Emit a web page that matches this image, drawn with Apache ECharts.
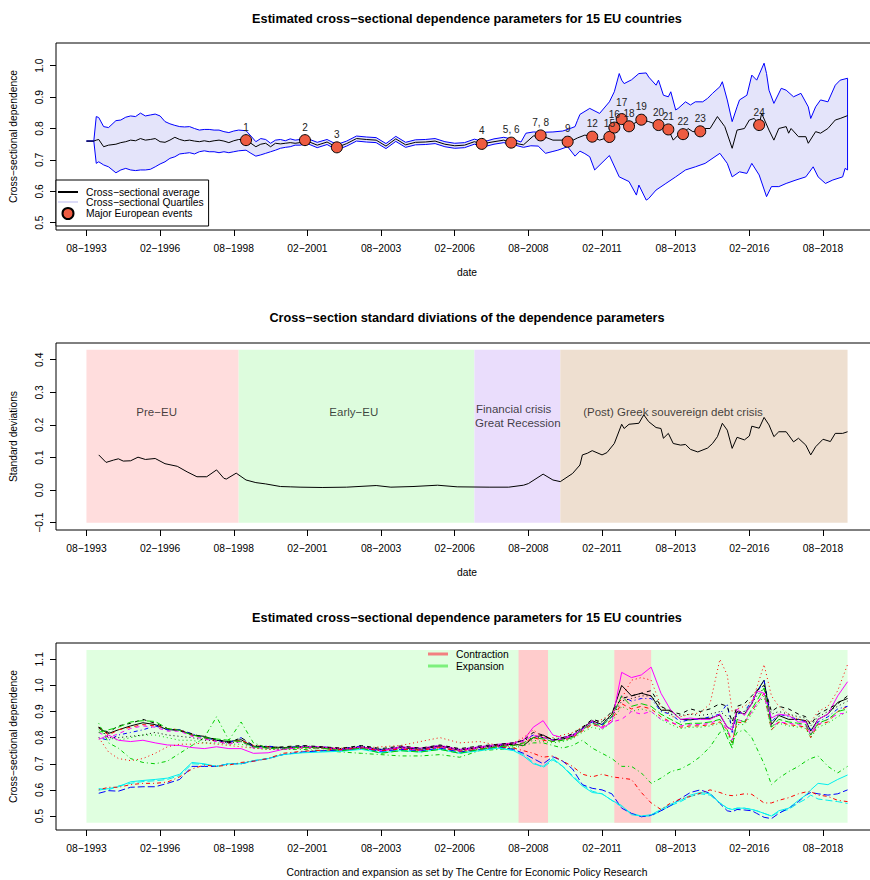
<!DOCTYPE html>
<html><head><meta charset="utf-8">
<script src="https://cdn.jsdelivr.net/npm/echarts@6/dist/echarts.min.js"></script>
<style>html,body{margin:0;padding:0;background:#fff}#c{width:870px;height:880px}</style>
</head><body><div id="c"></div>
<script>
// ---------- shared axis ticks (month index, 0 = Aug 1993) ----------
const tickMonths = [0,30,60,90,120,150,180,210,240,270,300];
const tickLabels = ['08−1993','02−1996','08−1998','02−2001','08−2003','02−2006','08−2008','02−2011','08−2013','02−2016','08−2018'];
const p1YTicks = [0.5,0.6,0.7,0.8,0.9,1.0];
const p2YTicks = [-0.1,0,0.1,0.2,0.3,0.4];
const p3YTicks = [0.5,0.6,0.7,0.8,0.9,1.0,1.1];

// ---------- panel 1 ----------
const p1UpperMonths = [0,3,4,5,7,9,12,14,16,18,20,22,24,26,28,30,32,34,36,38,40,42,44,46,48,50,52,54,56,58,60,62,65,67,69,71,73,75,77,79,81,83,85,87,
 90,94,98,102,106,110,114,118,122,126,130,134,138,142,146,150,154,158,162,166,170,174,177,179,182,186,190,194,197,199,200,
 201,205,209,213,215,217,218,219,222,225,228,229,232,233,235,237,238,240,241,244,246,248,251,253,255,258,259,261,263,265,266,269,271,273,276,277,278,280,283,285,288,291,294,295,297,299,302,305,307,310];
const p1Upper = [0.76,0.76,0.838,0.835,0.806,0.803,0.825,0.827,0.836,0.84,0.838,0.849,0.84,0.843,0.846,0.84,0.822,0.815,0.81,0.806,0.805,0.806,0.80,0.795,0.797,0.797,0.795,0.795,0.79,0.787,0.792,0.795,0.793,0.776,0.758,0.768,0.765,0.753,0.763,0.765,0.761,0.767,0.763,0.765,
 0.768,0.756,0.765,0.749,0.76,0.776,0.773,0.771,0.752,0.775,0.756,0.764,0.765,0.768,0.758,0.753,0.755,0.766,0.758,0.767,0.772,0.765,0.757,0.785,0.789,0.788,0.789,0.792,0.80,0.806,0.826,
 0.845,0.864,0.848,0.885,0.917,0.975,0.954,0.943,0.955,0.975,0.977,0.964,0.938,0.954,0.906,0.901,0.917,0.859,0.864,0.885,0.875,0.885,0.885,0.896,0.912,0.933,0.949,0.891,0.822,0.869,0.891,0.906,0.97,0.954,1.008,0.975,0.922,0.88,0.928,0.922,0.901,0.912,0.869,0.832,0.869,0.891,0.885,0.938,0.954,0.96];
const p1LowerMonths = [0,3,4,5,7,9,12,14,16,18,20,22,24,26,28,30,32,34,36,38,40,42,44,46,48,50,52,54,56,58,60,62,65,67,69,71,73,75,77,79,81,83,85,87,
 90,94,98,102,106,110,114,118,122,126,130,134,138,142,146,150,154,158,162,166,170,174,178,181,184,187,190,192,196,199,
 201,203,205,207,213,217,221,224,225,228,229,232,236,240,244,248,252,258,261,263,266,269,271,274,277,279,282,285,289,293,296,298,301,304,308,309,310];
const p1Lower = [0.76,0.76,0.689,0.694,0.684,0.678,0.659,0.668,0.673,0.668,0.666,0.668,0.668,0.67,0.678,0.687,0.694,0.705,0.71,0.719,0.721,0.723,0.719,0.726,0.729,0.726,0.726,0.723,0.726,0.723,0.726,0.729,0.731,0.721,0.712,0.716,0.721,0.726,0.731,0.737,0.74,0.742,0.747,0.747,
 0.752,0.739,0.749,0.732,0.744,0.76,0.757,0.755,0.736,0.759,0.74,0.748,0.749,0.752,0.742,0.737,0.739,0.75,0.742,0.75,0.755,0.748,0.74,0.745,0.744,0.721,0.727,0.731,0.742,0.712,
 0.728,0.72,0.71,0.668,0.714,0.646,0.631,0.588,0.62,0.572,0.577,0.604,0.625,0.646,0.668,0.678,0.689,0.721,0.689,0.646,0.662,0.657,0.689,0.652,0.583,0.615,0.615,0.625,0.636,0.646,0.678,0.646,0.625,0.636,0.646,0.673,0.668];
const p1MeanMonths = [0,3,4,5,7,9,12,14,16,18,20,22,24,26,28,30,32,34,36,38,40,42,44,46,48,50,52,54,56,58,60,62,65,67,69,71,73,75,77,79,81,83,85,87,
 89,94,98,102,106,110,114,118,122,126,130,134,138,142,146,150,154,158,161,166,170,173,178,182,185,190,194,196,198,200,
 201,203,206,209,213,215,218,221,223,226,229,233,235,237,239,241,243,245,247,250,252,254,257,260,263,265,268,270,272,274,275,278,280,282,285,286,287,290,293,294,297,299,302,305,307,310];
const p1Mean = [0.76,0.76,0.763,0.765,0.742,0.747,0.75,0.755,0.758,0.763,0.761,0.768,0.763,0.765,0.768,0.758,0.756,0.763,0.772,0.765,0.761,0.763,0.76,0.758,0.761,0.758,0.761,0.763,0.76,0.755,0.761,0.765,0.765,0.753,0.742,0.75,0.753,0.742,0.753,0.751,0.753,0.755,0.753,0.755,
 0.763,0.747,0.757,0.740,0.752,0.768,0.765,0.763,0.744,0.767,0.748,0.756,0.757,0.76,0.75,0.745,0.747,0.758,0.751,0.758,0.763,0.755,0.748,0.776,0.778,0.763,0.763,0.758,0.762,0.77,
 0.773,0.779,0.774,0.763,0.773,0.803,0.83,0.807,0.816,0.828,0.822,0.811,0.80,0.797,0.763,0.779,0.782,0.80,0.79,0.791,0.80,0.80,0.838,0.806,0.737,0.795,0.80,0.827,0.832,0.811,0.848,0.795,0.763,0.80,0.806,0.785,0.80,0.774,0.774,0.753,0.79,0.785,0.80,0.827,0.832,0.841];
const eventLabels = ['1','2','3','4','5, 6','7, 8','9','12','15','16','17','18','19','20','21','22','23','24'];
const eventMonths = [65,89,102,161,173,185,196,206,213,215,218,221,226,233,237,243,250,274];
const eventValues = [0.763,0.763,0.740,0.751,0.755,0.778,0.758,0.774,0.773,0.803,0.830,0.807,0.828,0.811,0.797,0.782,0.791,0.811];
const eventLabelLift = {'17': 4};

// ---------- panel 2 ----------
const p2Months = [5,8,11,13,15,18,21,24,28,32,37,41,45,49,53,56,57,61,65,69,73,79,83,87,96,106,118,124,133,143,151,164,172,178,180,186,190,193,198,201,202,204,206,210,212,215,218,219,221,225,227,229,232,234,235,237,239,242,244,246,249,253,255,257,259,261,263,265,268,270,271,274,276,278,280,282,285,288,290,293,295,297,300,303,305,308,310];
const p2Sd = [0.108,0.085,0.092,0.096,0.089,0.09,0.101,0.094,0.097,0.081,0.073,0.056,0.041,0.041,0.062,0.036,0.034,0.052,0.031,0.023,0.019,0.011,0.01,0.009,0.008,0.009,0.014,0.009,0.011,0.015,0.01,0.009,0.009,0.015,0.02,0.049,0.031,0.026,0.051,0.077,0.108,0.113,0.121,0.108,0.115,0.143,0.202,0.189,0.202,0.205,0.231,0.21,0.192,0.189,0.159,0.174,0.143,0.138,0.14,0.125,0.117,0.129,0.143,0.164,0.205,0.184,0.128,0.162,0.154,0.166,0.196,0.19,0.223,0.2,0.164,0.179,0.179,0.148,0.159,0.138,0.108,0.133,0.156,0.149,0.174,0.174,0.179];
const p2RegionStart = [0,62,158,193];
const p2RegionEnd = [62,158,193,310];
const p2RegionLow = -0.1, p2RegionHigh = 0.4307;
const p2RegionColors = ['#FFDDDD','#DDFCDD','#EADDFC','#EEDFD0'];
const p2NoteTexts = ['Pre−EU','Early−EU','Financial crisis','Great Recession','(Post) Greek souvereign debt crisis'];
const p2NoteMonths = [28.6,108.9,174.0,175.7,238.9];
const p2NoteValues = [0.240,0.240,0.249,0.2064,0.240];

// ---------- panel 3 ----------
const p3ExpStart = [0], p3ExpEnd = [310];
const p3ConStart = [176,215], p3ConEnd = [188,230];
const p3ShadeLow = 0.4743, p3ShadeHigh = 1.1356;
const p3Months = [5,9,13,18,23,28,33,38,43,48,53,58,63,68,74,80, 88,96,104,112,120,128,136,144,152,160,168,
 174,178,182,186,190,194,198,202,206,210,214,218,222,226,230,234,238,242,246,250,254,258,261,263,265,268,271,273,276,279,282,286,290,293,295,298,302,306,310];
const c01 = [0.836,0.816,0.83,0.845,0.857,0.85,0.83,0.83,0.81,0.805,0.79,0.785,0.792,0.765,0.765,0.762, 0.765,0.762,0.755,0.765,0.752,0.762,0.755,0.768,0.752,0.762,0.77,
 0.775,0.77,0.80,0.81,0.79,0.795,0.805,0.835,0.865,0.85,0.89,1.0,0.96,0.97,0.96,0.905,0.905,0.87,0.868,0.874,0.874,0.887,0.84,0.83,0.9,0.89,0.93,0.976,1.02,0.85,0.885,0.87,0.87,0.865,0.825,0.87,0.89,0.935,0.95];
const c02 = [0.84,0.81,0.83,0.84,0.85,0.845,0.835,0.83,0.81,0.80,0.785,0.78,0.79,0.77,0.765,0.76, 0.762,0.76,0.752,0.762,0.75,0.76,0.752,0.765,0.75,0.76,0.768,
 0.77,0.78,0.80,0.79,0.785,0.79,0.80,0.825,0.85,0.84,0.87,0.93,0.91,0.92,0.91,0.88,0.86,0.84,0.845,0.845,0.85,0.86,0.83,0.78,0.86,0.855,0.90,0.93,0.97,0.83,0.86,0.85,0.845,0.84,0.80,0.85,0.86,0.90,0.92];
const c03 = [0.83,0.80,0.79,0.80,0.81,0.81,0.80,0.79,0.79,0.78,0.78,0.775,0.775,0.76,0.755,0.755, 0.76,0.758,0.752,0.76,0.75,0.758,0.752,0.762,0.748,0.758,0.765,
 0.765,0.775,0.79,0.785,0.78,0.785,0.795,0.82,0.84,0.83,0.86,0.92,0.90,0.91,0.90,0.87,0.85,0.835,0.84,0.84,0.845,0.855,0.82,0.77,0.85,0.85,0.89,0.92,0.96,0.83,0.855,0.845,0.84,0.835,0.80,0.84,0.855,0.88,0.90];
const c04 = [0.80,0.79,0.81,0.82,0.83,0.845,0.83,0.83,0.815,0.80,0.79,0.78,0.80,0.765,0.768,0.76, 0.768,0.765,0.758,0.768,0.755,0.765,0.758,0.77,0.755,0.765,0.772,
 0.78,0.79,0.81,0.80,0.79,0.80,0.81,0.835,0.86,0.85,0.88,0.96,0.94,0.95,0.95,0.90,0.89,0.86,0.87,0.87,0.88,0.89,0.93,0.82,0.89,0.90,0.94,0.97,1.02,0.86,0.89,0.88,0.87,0.86,0.83,0.86,0.88,0.91,0.92];
const c05 = [0.605,0.60,0.615,0.625,0.632,0.635,0.64,0.655,0.70,0.698,0.69,0.70,0.70,0.712,0.72,0.735, 0.745,0.748,0.75,0.758,0.745,0.752,0.748,0.758,0.742,0.752,0.762,
 0.752,0.735,0.705,0.685,0.715,0.69,0.655,0.62,0.595,0.585,0.56,0.535,0.51,0.50,0.50,0.52,0.54,0.555,0.575,0.585,0.58,0.55,0.53,0.525,0.53,0.53,0.525,0.52,0.51,0.50,0.515,0.525,0.55,0.565,0.58,0.565,0.56,0.555,0.548];
const c06 = [0.793,0.81,0.79,0.785,0.79,0.78,0.772,0.77,0.762,0.758,0.765,0.758,0.758,0.74,0.742,0.755, 0.765,0.765,0.755,0.765,0.75,0.765,0.76,0.77,0.755,0.765,0.775,
 0.78,0.79,0.84,0.865,0.81,0.80,0.81,0.83,0.865,0.835,0.86,1.05,1.03,1.04,1.07,0.97,0.905,0.87,0.875,0.87,0.87,0.89,0.84,0.83,0.91,0.885,0.93,0.98,0.97,0.875,0.89,0.885,0.86,0.86,0.81,0.87,0.89,0.96,1.014];
const c07 = [0.84,0.82,0.845,0.855,0.87,0.855,0.835,0.825,0.815,0.80,0.795,0.78,0.80,0.77,0.76,0.765, 0.77,0.765,0.76,0.77,0.758,0.768,0.76,0.772,0.758,0.768,0.775,
 0.78,0.79,0.82,0.81,0.79,0.80,0.815,0.84,0.87,0.86,0.90,0.95,0.96,0.97,0.98,0.92,0.90,0.89,0.91,0.90,0.91,0.93,0.92,0.86,0.92,0.93,0.96,0.98,1.0,0.90,0.92,0.91,0.89,0.88,0.85,0.89,0.91,0.93,0.96];
const c08 = [0.80,0.745,0.72,0.712,0.72,0.74,0.765,0.775,0.775,0.78,0.775,0.77,0.765,0.76,0.755,0.755, 0.76,0.76,0.76,0.76,0.765,0.77,0.785,0.80,0.78,0.785,0.77,
 0.78,0.80,0.83,0.80,0.80,0.81,0.82,0.84,0.85,0.87,0.89,0.95,1.02,1.03,1.02,0.92,0.88,0.88,0.89,0.895,0.93,1.10,1.04,0.90,0.91,0.92,0.94,0.99,1.08,0.96,0.92,0.89,0.87,0.865,0.86,0.90,0.92,0.98,1.08];
const c09 = [0.855,0.78,0.76,0.72,0.705,0.70,0.71,0.74,0.77,0.80,0.88,0.79,0.86,0.78,0.76,0.755, 0.755,0.75,0.745,0.74,0.735,0.73,0.73,0.735,0.725,0.75,0.755,
 0.76,0.77,0.78,0.78,0.77,0.76,0.77,0.79,0.76,0.74,0.72,0.69,0.69,0.665,0.625,0.645,0.67,0.68,0.70,0.727,0.765,0.82,0.83,0.78,0.82,0.83,0.80,0.76,0.70,0.62,0.645,0.67,0.69,0.71,0.72,0.73,0.69,0.665,0.69];
const c10 = [0.587,0.597,0.595,0.61,0.612,0.612,0.625,0.64,0.69,0.69,0.69,0.70,0.70,0.71,0.72,0.735, 0.745,0.75,0.752,0.76,0.748,0.755,0.75,0.76,0.745,0.755,0.765,
 0.755,0.74,0.72,0.70,0.727,0.71,0.68,0.62,0.606,0.60,0.585,0.53,0.51,0.497,0.503,0.52,0.54,0.567,0.59,0.60,0.587,0.548,0.52,0.516,0.525,0.523,0.52,0.51,0.495,0.49,0.51,0.53,0.555,0.58,0.59,0.585,0.58,0.585,0.60];
const c11 = [0.599,0.605,0.612,0.631,0.636,0.64,0.645,0.66,0.705,0.70,0.69,0.70,0.70,0.712,0.72,0.735, 0.742,0.745,0.748,0.755,0.742,0.75,0.745,0.755,0.74,0.75,0.76,
 0.75,0.73,0.70,0.69,0.72,0.69,0.65,0.615,0.59,0.585,0.56,0.54,0.505,0.50,0.505,0.525,0.545,0.56,0.58,0.59,0.585,0.55,0.53,0.525,0.53,0.53,0.525,0.52,0.51,0.50,0.52,0.53,0.56,0.58,0.60,0.625,0.62,0.64,0.657];
const c12 = [0.82,0.80,0.815,0.835,0.845,0.84,0.825,0.825,0.805,0.795,0.785,0.775,0.785,0.76,0.76,0.755, 0.762,0.76,0.752,0.762,0.75,0.76,0.752,0.765,0.75,0.76,0.768,
 0.775,0.785,0.81,0.80,0.79,0.795,0.805,0.83,0.855,0.84,0.86,0.87,0.90,0.89,0.90,0.87,0.86,0.845,0.85,0.85,0.855,0.87,0.83,0.79,0.87,0.86,0.90,0.93,0.97,0.84,0.86,0.855,0.85,0.845,0.81,0.85,0.87,0.89,0.895];
const c13 = [0.84,0.80,0.80,0.805,0.81,0.82,0.81,0.805,0.80,0.79,0.79,0.78,0.785,0.77,0.765,0.76, 0.765,0.762,0.758,0.765,0.755,0.762,0.758,0.768,0.755,0.762,0.77,
 0.775,0.79,0.80,0.80,0.795,0.80,0.81,0.84,0.86,0.86,0.88,0.94,0.95,0.96,0.96,0.92,0.89,0.885,0.89,0.885,0.89,0.90,0.88,0.85,0.90,0.90,0.93,0.96,0.99,0.89,0.90,0.89,0.88,0.875,0.845,0.88,0.90,0.92,0.94];
const c14 = [0.60,0.61,0.61,0.62,0.625,0.625,0.63,0.65,0.68,0.695,0.69,0.695,0.705,0.71,0.72,0.74, 0.748,0.752,0.755,0.76,0.75,0.756,0.752,0.762,0.748,0.756,0.765,
 0.76,0.75,0.74,0.725,0.73,0.71,0.69,0.66,0.65,0.66,0.65,0.645,0.64,0.59,0.55,0.525,0.55,0.565,0.575,0.587,0.60,0.59,0.58,0.578,0.58,0.585,0.583,0.57,0.55,0.55,0.56,0.57,0.585,0.592,0.593,0.58,0.575,0.56,0.555];
const c15 = [0.82,0.83,0.84,0.86,0.865,0.862,0.835,0.828,0.81,0.80,0.795,0.79,0.785,0.765,0.76,0.76, 0.763,0.76,0.75,0.76,0.74,0.75,0.745,0.755,0.74,0.755,0.765,
 0.77,0.78,0.80,0.795,0.785,0.79,0.80,0.83,0.855,0.845,0.88,0.96,0.92,0.93,0.92,0.89,0.87,0.85,0.855,0.855,0.86,0.87,0.80,0.76,0.87,0.86,0.91,0.94,0.99,0.84,0.87,0.86,0.855,0.85,0.81,0.855,0.87,0.90,0.91];
const p3Series = [c01,c02,c03,c04,c05,c06,c07,c08,c09,c10,c11,c12,c13,c14,c15];

// ---------- styling ----------
const FONT = '"Liberation Sans", Arial, Helvetica, sans-serif';
const FS = 10.3;
const p3Colors = ['#000000','#FF0000','#00CD00','#0000FF','#00EEEE','#FF00FF'];
const p3Dashes = ['solid',[4,4],[1,3],[1,3,4,3],[7,3]];
const LINE_ICON = 'path://M0,0 L20,0 L20,2 L0,2 Z';
const zip = (xs, ys) => xs.map((x, i) => [x, ys[i]]);
const fmtY = v => v.toFixed(1).replace('-', '−');

const chart = echarts.init(document.getElementById('c'), null, {renderer: 'svg'});

const grids = [43, 343, 643].map(t => ({left: 56, right: -8, top: t, height: 187, show: true, borderColor: '#000', borderWidth: 1,
  containLabel: false, outerBoundsMode: 'none'}));
function xAxisFor(i, name) {
  return {type: 'value', gridIndex: i, min: -12.4, max: 322.4, name: name, nameLocation: 'middle', nameGap: 37,
    nameTextStyle: {fontSize: FS, color: '#000', fontFamily: FONT},
    axisLine: {show: false, onZero: false}, splitLine: {show: false},
    axisTick: {show: true, customValues: tickMonths, length: 6, lineStyle: {color: '#000', width: 1}},
    axisLabel: {customValues: tickMonths, formatter: v => tickLabels[tickMonths.indexOf(v)], margin: 13, fontSize: FS, color: '#000', fontFamily: FONT}};
}
function yAxisFor(i, min, max, ticks, name) {
  return {type: 'value', gridIndex: i, min: min, max: max, name: name, nameLocation: 'middle', nameRotate: 90, nameGap: 38,
    nameTextStyle: {fontSize: FS, color: '#000', fontFamily: FONT},
    axisLine: {show: false, onZero: false}, splitLine: {show: false},
    axisTick: {show: true, customValues: ticks, length: 6, lineStyle: {color: '#000', width: 1}},
    axisLabel: {customValues: ticks, formatter: fmtY, rotate: 90, margin: 12, fontSize: FS, color: '#000', fontFamily: FONT}};
}
function rectSeries(name, xi, starts, ends, low, high, colors) {
  return {type: 'custom', name: name, xAxisIndex: xi, yAxisIndex: xi, silent: true, z: 1,
    data: starts.map((s, i) => [s, ends[i], low, high]),
    encode: {x: [0, 1], y: [2, 3]},
    renderItem: (params, api) => {
      const a = api.coord([api.value(0), api.value(3)]);
      const b = api.coord([api.value(1), api.value(2)]);
      return {type: 'rect', shape: {x: a[0], y: a[1], width: b[0] - a[0], height: b[1] - a[1]}, style: {fill: colors[params.dataIndex % colors.length]}};
    }};
}

const series = [];
// panel 1 band
series.push({type: 'custom', name: 'quartile band', xAxisIndex: 0, yAxisIndex: 0, silent: true, z: 1,
  data: [[0, 0.76]],
  renderItem: (params, api) => {
    const pts = [];
    p1UpperMonths.forEach((m, i) => pts.push(api.coord([m, p1Upper[i]])));
    for (let i = p1LowerMonths.length - 1; i >= 0; i--) pts.push(api.coord([p1LowerMonths[i], p1Lower[i]]));
    return {type: 'polygon', shape: {points: pts}, style: {fill: '#E4E4FA', stroke: '#0000FF', lineWidth: 1}};
  }});
series.push({type: 'line', name: 'Cross−sectional Quartiles', xAxisIndex: 0, yAxisIndex: 0, data: [], symbol: 'none',
  lineStyle: {color: '#DCDCF8', width: 2}, itemStyle: {color: '#DCDCF8'}});
series.push({type: 'line', name: 'Cross−sectional average', xAxisIndex: 0, yAxisIndex: 0, data: zip(p1MeanMonths, p1Mean),
  symbol: 'none', lineStyle: {color: '#000', width: 1}, itemStyle: {color: '#000'}, z: 3, silent: true});
series.push({type: 'scatter', name: 'Major European events', xAxisIndex: 0, yAxisIndex: 0, z: 4, silent: true,
  data: eventMonths.map((m, i) => ({value: [m, eventValues[i]], name: eventLabels[i],
    label: {offset: [0, -(eventLabelLift[eventLabels[i]] || 0)]}})),
  symbol: 'circle', symbolSize: 11, itemStyle: {color: '#EE5C42', borderColor: '#000', borderWidth: 1, opacity: 1},
  label: {show: true, position: 'top', distance: 2, formatter: '{b}', fontSize: 10, color: '#222', fontFamily: FONT}});

// panel 2
series.push(rectSeries('periods', 1, p2RegionStart, p2RegionEnd, p2RegionLow, p2RegionHigh, p2RegionColors));
series.push({type: 'line', name: 'sd', xAxisIndex: 1, yAxisIndex: 1, data: zip(p2Months, p2Sd), symbol: 'none',
  lineStyle: {color: '#000', width: 1}, z: 3, silent: true});
series.push({type: 'scatter', name: 'notes', xAxisIndex: 1, yAxisIndex: 1, symbolSize: 0, silent: true, z: 4,
  data: p2NoteMonths.map((m, i) => ({value: [m, p2NoteValues[i]], name: p2NoteTexts[i]})),
  label: {show: true, position: 'inside', formatter: '{b}', fontSize: 11.5, color: '#111', fontFamily: FONT}});

// panel 3
series.push(rectSeries('Expansion', 2, p3ExpStart, p3ExpEnd, p3ShadeLow, p3ShadeHigh, ['#E0FFE0']));
series.push(rectSeries('Contraction', 2, p3ConStart, p3ConEnd, p3ShadeLow, p3ShadeHigh, ['#FFCCCC']));
p3Series.forEach((vals, i) => {
  series.push({type: 'line', name: 'Country ' + (i + 1), xAxisIndex: 2, yAxisIndex: 2, data: zip(p3Months, vals),
    symbol: 'none', silent: true, z: 3,
    lineStyle: {color: p3Colors[i % 6], width: 1, type: p3Dashes[i % 5]}});
});

const titleStyle = {fontSize: 12.7, fontWeight: 'bold', color: '#000', fontFamily: FONT};
chart.setOption({
  animation: false,
  textStyle: {fontFamily: FONT},
  title: [
    {text: 'Estimated cross−sectional dependence parameters for 15 EU countries', left: 467, top: 12, textAlign: 'center', padding: 0, textStyle: titleStyle},
    {text: 'Cross−section standard diviations of the dependence parameters', left: 467, top: 311, textAlign: 'center', padding: 0, textStyle: titleStyle},
    {text: 'Estimated cross−sectional dependence parameters for 15 EU countries', left: 467, top: 611, textAlign: 'center', padding: 0, textStyle: titleStyle}
  ],
  grid: grids,
  xAxis: [xAxisFor(0, 'date'), xAxisFor(1, 'date'), xAxisFor(2, 'Contraction and expansion as set by The Centre for Economic Policy Research')],
  yAxis: [yAxisFor(0, 0.4768, 1.0723, p1YTicks, 'Cross−sectional dependence'),
          yAxisFor(1, -0.1224, 0.4513, p2YTicks, 'Standard deviations'),
          yAxisFor(2, 0.4464, 1.1624, p3YTicks, 'Cross−sectional dependence')],
  legend: [
    {orient: 'vertical', left: 56, top: 180, selectedMode: false, itemWidth: 20, itemHeight: 11, itemGap: 0,
     padding: [7, 5, 6, 2], borderColor: '#000', borderWidth: 1, backgroundColor: '#fff',
     textStyle: {fontSize: FS, color: '#000', fontFamily: FONT, padding: [0, 0, 0, 3]},
     data: [{name: 'Cross−sectional average', icon: LINE_ICON, itemStyle: {color: '#000'}},
            {name: 'Cross−sectional Quartiles', icon: LINE_ICON, itemStyle: {color: '#DCDCF8'}},
            {name: 'Major European events'}]},
    {orient: 'vertical', left: 428, top: 649, selectedMode: false, itemWidth: 20, itemHeight: 3, itemGap: 2, padding: 0,
     textStyle: {fontSize: FS, color: '#000', fontFamily: FONT, padding: [0, 0, 0, 3]},
     data: [{name: 'Contraction', icon: 'rect', itemStyle: {color: '#F28080'}},
            {name: 'Expansion', icon: 'rect', itemStyle: {color: '#7CF07C'}}]}
  ],
  series: series
});
</script></body></html>
